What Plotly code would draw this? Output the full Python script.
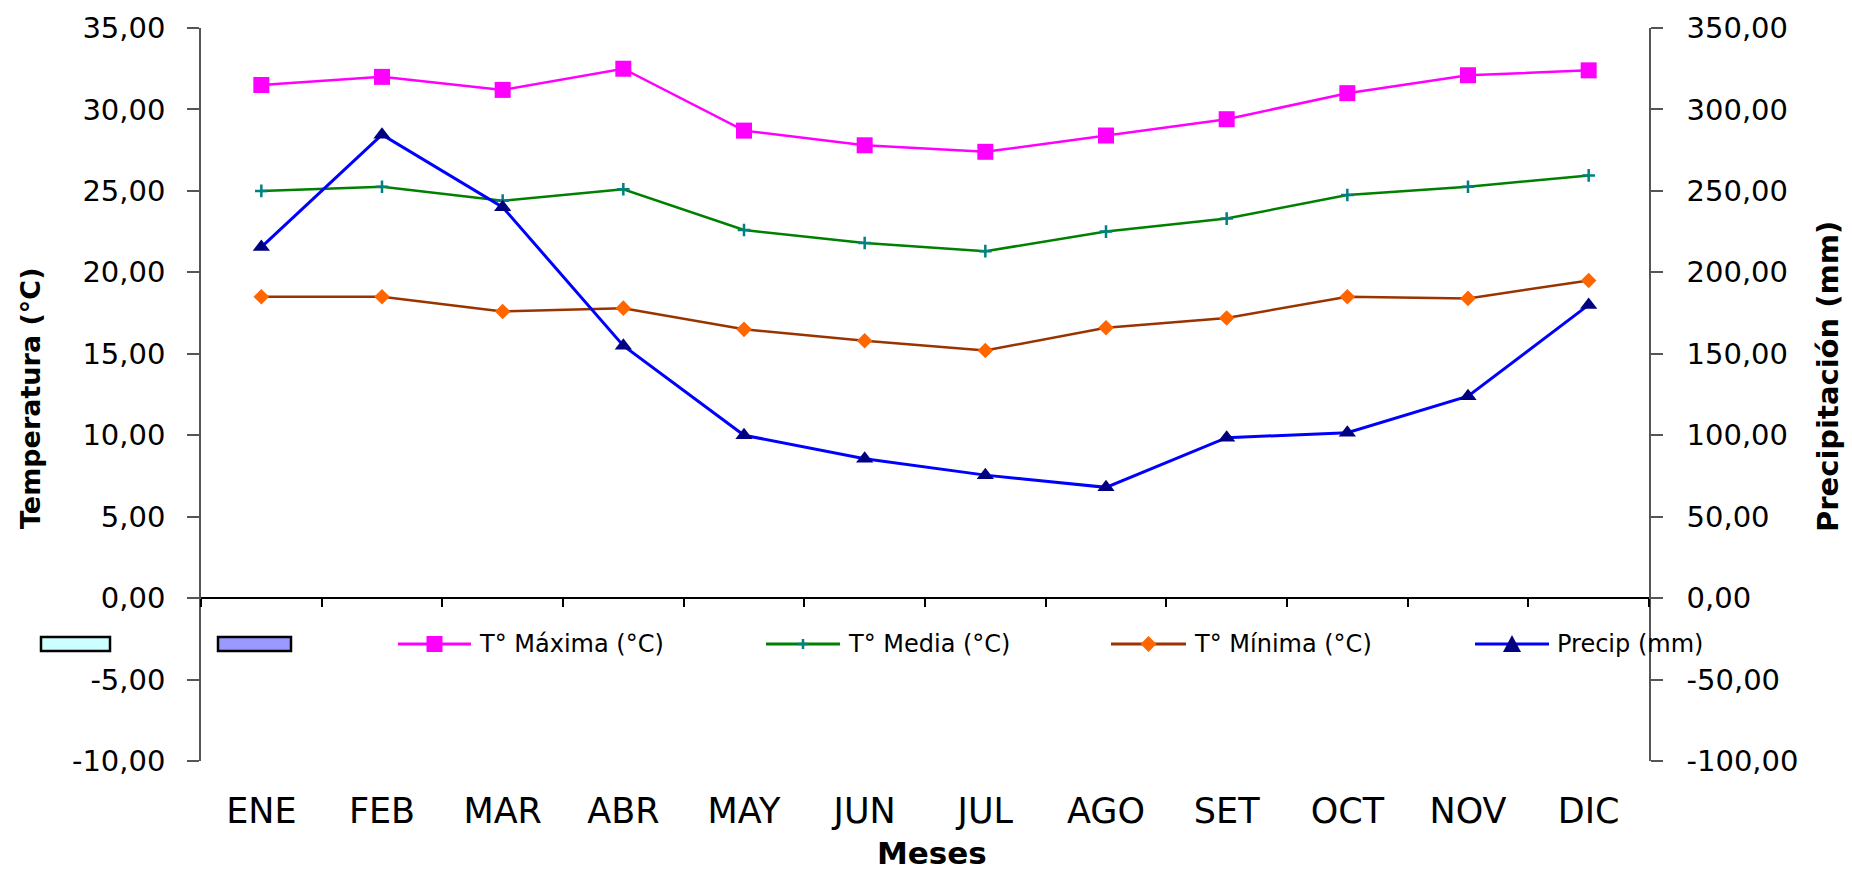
import plotly.graph_objects as go

# Monthly climate series
meses = ["ENE", "FEB", "MAR", "ABR", "MAY", "JUN", "JUL", "AGO", "SET", "OCT", "NOV", "DIC"]
t_maxima = [31.5, 32.0, 31.2, 32.5, 28.7, 27.8, 27.4, 28.4, 29.4, 31.0, 32.1, 32.4]
t_media = [25.0, 25.25, 24.4, 25.1, 22.6, 21.8, 21.3, 22.5, 23.3, 24.75, 25.25, 25.95]
t_minima = [18.5, 18.5, 17.6, 17.8, 16.5, 15.8, 15.2, 16.6, 17.2, 18.5, 18.4, 19.5]
precip = [215.5, 284.5, 240.0, 155.0, 100.0, 85.5, 75.5, 68.0, 98.5, 101.5, 124.0, 180.0]

# Axis ticks
temp_ticks = [-10, -5, 0, 5, 10, 15, 20, 25, 30, 35]
temp_ticktext = ["-10,00", "-5,00", "0,00", "5,00", "10,00", "15,00", "20,00", "25,00", "30,00", "35,00"]
prec_ticks = [-100, -50, 0, 50, 100, 150, 200, 250, 300, 350]
prec_ticktext = ["-100,00", "-50,00", "0,00", "50,00", "100,00", "150,00", "200,00", "250,00", "300,00", "350,00"]

FONT = "DejaVu Sans"
W, H = 1852, 875
L, R, T, B = 201, 1649, 28, 761  # plot area edges in pixels


def px(x):
    return (x - L) / (R - L)


def py(y):
    return (B - y) / (B - T)


fig = go.Figure()

fig.add_trace(go.Scatter(
    x=meses, y=t_maxima, name="T° Máxima (°C)", mode="lines+markers",
    line=dict(color="#FF00FF", width=2.5),
    marker=dict(symbol="square", size=16, color="#FF00FF"),
))
fig.add_trace(go.Scatter(
    x=meses, y=t_media, name="T° Media (°C)", mode="lines+markers",
    line=dict(color="#008000", width=2.5),
    marker=dict(symbol="cross-thin", size=9, line=dict(color="#008080", width=2.5)),
))
fig.add_trace(go.Scatter(
    x=meses, y=t_minima, name="T° Mínima (°C)", mode="lines+markers",
    line=dict(color="#993300", width=2.5),
    marker=dict(symbol="diamond", size=12, color="#FF6600"),
))
fig.add_trace(go.Scatter(
    x=meses, y=precip, name="Precip (mm)", mode="lines+markers", yaxis="y2",
    line=dict(color="#0000FF", width=3),
    marker=dict(symbol="triangle-up", size=15, color="#000080"),
))
# Empty trace that binds the zero-level category axis (x2) so it gets drawn
fig.add_trace(go.Scatter(
    x=[None], y=[None], xaxis="x2", yaxis="y", mode="markers",
    showlegend=False, hoverinfo="skip",
))

axis_line = "#555555"

fig.update_layout(
    width=W, height=H,
    margin=dict(l=L, r=W - R, t=T, b=H - B),
    paper_bgcolor="white", plot_bgcolor="white",
    showlegend=False,
    font=dict(family=FONT, color="black"),
    xaxis=dict(
        type="category", categoryarray=meses, range=[-0.5, 11.5],
        showline=False, showgrid=False, zeroline=False, ticks="",
        tickfont=dict(family=FONT, size=35, color="black"),
        ticklabelstandoff=26,
    ),
    xaxis2=dict(
        overlaying="x", anchor="free", position=(0 - temp_ticks[0]) / (temp_ticks[-1] - temp_ticks[0]),
        type="linear", range=[-0.5, 11.5], tickvals=[i + 0.5 for i in range(-1, 12)],
        ticks="outside", ticklen=8, tickwidth=1.5, tickcolor="black",
        showline=True, linecolor="black", linewidth=1.5,
        showticklabels=False, showgrid=False, zeroline=False,
    ),
    yaxis=dict(
        range=[-10, 35], tickvals=temp_ticks, ticktext=temp_ticktext,
        ticks="outside", ticklen=12, tickwidth=1.5, tickcolor=axis_line,
        showline=True, linecolor=axis_line, linewidth=1.5,
        showgrid=False, zeroline=False,
        tickfont=dict(family=FONT, size=29, color="black"),
        ticklabelstandoff=16,
    ),
    yaxis2=dict(
        overlaying="y", side="right", range=[-100, 350],
        tickvals=prec_ticks, ticktext=prec_ticktext,
        ticks="outside", ticklen=12, tickwidth=1.5, tickcolor=axis_line,
        showline=True, linecolor=axis_line, linewidth=1.5,
        showgrid=False, zeroline=False,
        tickfont=dict(family=FONT, size=29, color="black"),
        ticklabelstandoff=18,
    ),
)

# Axis titles
fig.add_annotation(
    text="Temperatura (°C)", xref="paper", yref="paper", x=px(30), y=py(398),
    textangle=-90, showarrow=False, xanchor="center", yanchor="middle",
    font=dict(family=FONT, size=27, color="black", weight="bold"),
)
fig.add_annotation(
    text="Precipitación (mm)", xref="paper", yref="paper", x=px(1828), y=py(376),
    textangle=-90, showarrow=False, xanchor="center", yanchor="middle",
    font=dict(family=FONT, size=29, color="black", weight="bold"),
)
fig.add_annotation(
    text="Meses", xref="paper", yref="paper", x=px(932), y=py(873),
    showarrow=False, xanchor="center", yanchor="bottom",
    font=dict(family=FONT, size=31, color="black", weight="bold"),
)

# Legend row
LY = 644
shapes = []
for x0, x1, fill in [(41, 110, "#CCFFFF"), (218, 291, "#9999FF")]:
    shapes.append(dict(type="rect", xref="paper", yref="paper",
                       x0=px(x0), x1=px(x1), y0=py(LY + 7), y1=py(LY - 7),
                       fillcolor=fill, line=dict(color="black", width=2.5)))

legend_items = [
    ("T° Máxima (°C)", 398, 471, "#FF00FF"),
    ("T° Media (°C)", 766, 840, "#008000"),
    ("T° Mínima (°C)", 1111, 1186, "#993300"),
    ("Precip (mm)", 1475, 1549, "#0000FF"),
]
for i, (label, x0, x1, lc) in enumerate(legend_items):
    shapes.append(dict(type="line", xref="paper", yref="paper",
                       x0=px(x0), x1=px(x1), y0=py(LY), y1=py(LY),
                       line=dict(color=lc, width=3)))
    cx = (x0 + x1) / 2
    if i == 0:
        shapes.append(dict(type="rect", xref="paper", yref="paper",
                           x0=px(cx - 8), x1=px(cx + 8), y0=py(LY + 8), y1=py(LY - 8),
                           fillcolor="#FF00FF", line=dict(width=0)))
    elif i == 1:
        for dx, dy in [(5, 0), (0, 5)]:
            shapes.append(dict(type="line", xref="paper", yref="paper",
                               x0=px(cx - dx), x1=px(cx + dx), y0=py(LY - dy), y1=py(LY + dy),
                               line=dict(color="#008080", width=2.5)))
    elif i == 2:
        path = (f"M {px(cx - 8)},{py(LY)} L {px(cx)},{py(LY - 8)} "
                f"L {px(cx + 8)},{py(LY)} L {px(cx)},{py(LY + 8)} Z")
        shapes.append(dict(type="path", xref="paper", yref="paper", path=path,
                           fillcolor="#FF6600", line=dict(width=0)))
    else:
        path = (f"M {px(cx - 9)},{py(LY + 8)} L {px(cx)},{py(LY - 9)} "
                f"L {px(cx + 9)},{py(LY + 8)} Z")
        shapes.append(dict(type="path", xref="paper", yref="paper", path=path,
                           fillcolor="#000080", line=dict(width=0)))
    fig.add_annotation(
        text=label, xref="paper", yref="paper", x=px(x1 + 6), y=py(LY),
        showarrow=False, xanchor="left", yanchor="middle",
        font=dict(family=FONT, size=24, color="black"),
    )

fig.update_layout(shapes=shapes)

fig.write_html("out.html")
